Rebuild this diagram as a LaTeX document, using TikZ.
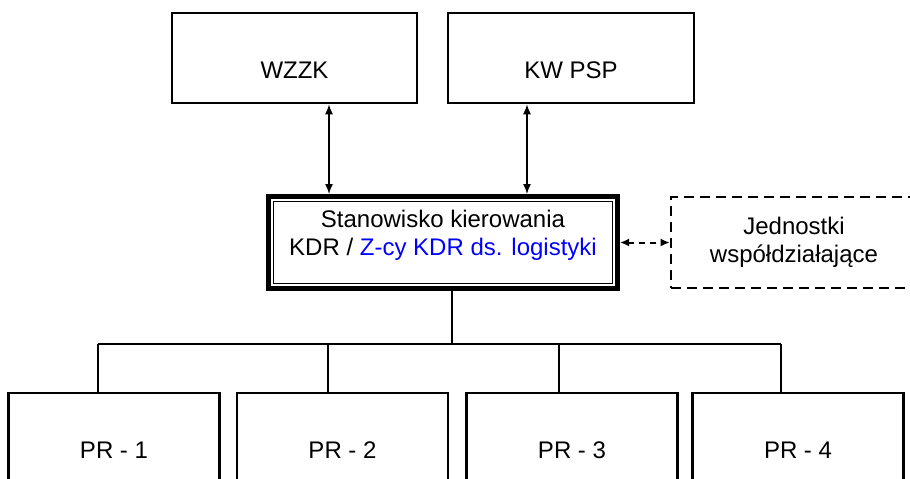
\documentclass[tikz,border=0pt]{standalone}
\usepackage{fontspec}
\setmainfont{Liberation Sans}
\usetikzlibrary{arrows.meta}

\begin{document}
\begin{tikzpicture}[
        x = 1pt, y = -1pt,
        font = \fontsize{24}{28}\selectfont,
        box/.style = {draw=black, line width=2.6pt, rectangle,
            minimum width=245pt, minimum height=90pt,
            text height=41pt, text depth=0pt},
        prbox/.style = {box, minimum width=211pt},
        dashbox/.style = {draw=black, line width=2.6pt, rectangle,
            dash pattern=on 10pt off 6pt, align=center,
            minimum width=246pt, minimum height=91pt},
        link/.style = {line width=1.4pt},
        >={Latex[length=10pt,width=8pt]}]
        \useasboundingbox (0,0) rectangle (910,479);
        % NODES
        % upper boxes
        \node[box] (W) at (294.5,58) {WZZK};
        \node[box, minimum width=246pt] (K) at (571,58) {KW PSP};
        % command post (double frame)
        \node[draw=black, line width=5pt, outer sep=2.5pt,
            minimum width=349pt, minimum height=92pt,
            label={[align=center, yshift=7pt]center:{Stanowisko kierowania\\KDR / \textcolor{blue}{Z-cy KDR ds. logistyki}}}]
            (S) at (443,242.5) {};
        \draw[line width=1.3pt] ([shift={(7.5pt,-7.5pt)}]S.north west) rectangle ([shift={(-7.5pt,7.5pt)}]S.south east);
        % cooperating units
        \node[dashbox] (J) at (794,242.5) {Jednostki\\współdziałające};
        % PR boxes
        \node[prbox] (P1) at (114,438) {PR - 1};
        \node[prbox] (P2) at (342.5,438) {PR - 2};
        \node[prbox] (P3) at (572,438) {PR - 3};
        \node[prbox] (P4) at (798,438) {PR - 4};
        % junctions
        \coordinate (T) at (452,344);
        \coordinate (J1) at (98,344);
        \coordinate (J2) at (328,344);
        \coordinate (J3) at (559,344);
        \coordinate (J4) at (781,344);

        % ARROWS
        \draw[link, <->] ([xshift=34.5pt]W.south) -- ([xshift=-114pt]S.north);
        \draw[link, <->] ([xshift=-44pt]K.south) -- ([xshift=84pt]S.north);
        \draw[line width=2pt, <->, dash pattern=on 6pt off 5pt, >={Latex[length=9pt,width=8pt]}] (S.east) -- (J.west);
        % tree
        \draw[link] (S.south -| T) -- (T);
        \draw[link] (J1) -- (J4);
        \draw[link] (J1) -- (P1.north -| J1);
        \draw[link] (J2) -- (P2.north -| J2);
        \draw[link] (J3) -- (P3.north -| J3);
        \draw[link] (J4) -- (P4.north -| J4);
\end{tikzpicture}
\end{document}
